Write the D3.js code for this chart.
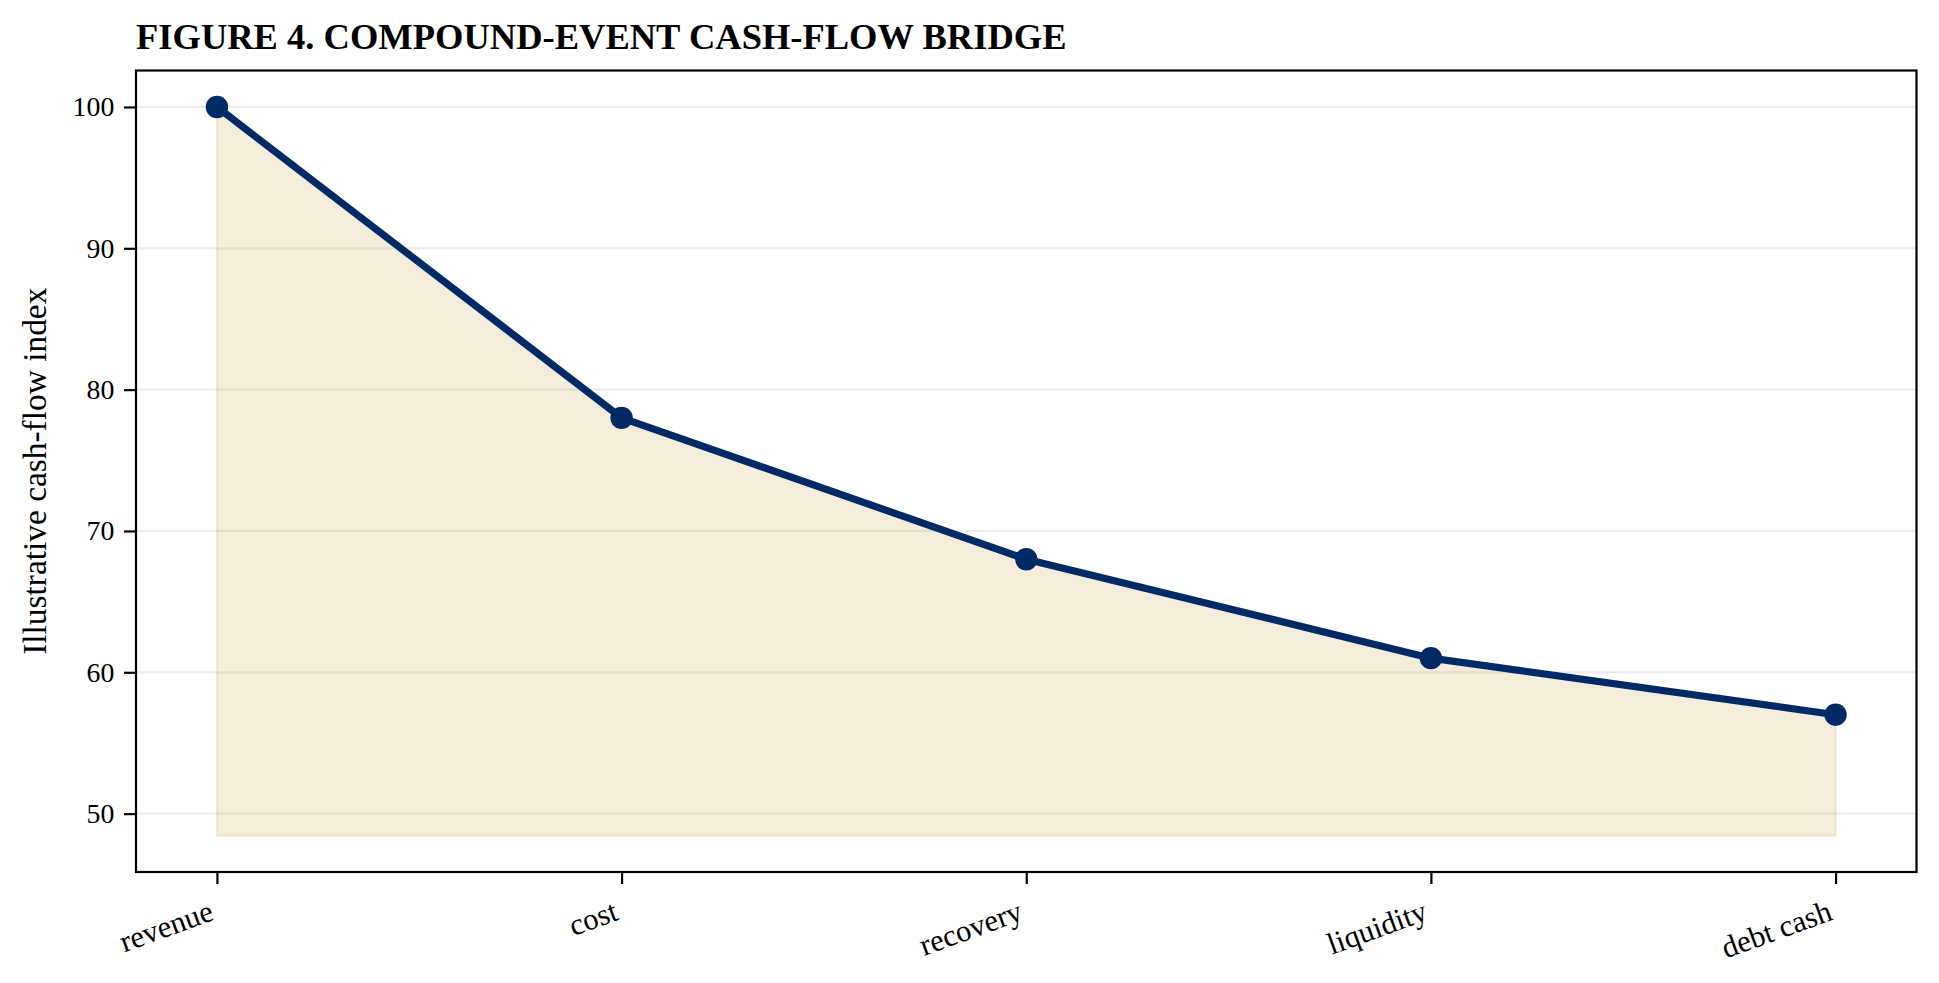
<!DOCTYPE html>
<html>
<head>
<meta charset="utf-8">
<script src="https://cdn.jsdelivr.net/npm/d3@7/dist/d3.min.js"></script>
<style>
  html, body { margin: 0; padding: 0; background: #ffffff; }
  svg { display: block; }
</style>
</head>
<body>
<svg id="chart" width="1939" height="983"></svg>
<script>
// ---- data ----
const categories = ["revenue", "cost", "recovery", "liquidity", "debt cash"];
const values = [100, 78, 68, 61, 57];
const fillBase = 48.45;
const yTicks = [50, 60, 70, 80, 90, 100];
const titleText = "FIGURE 4. COMPOUND-EVENT CASH-FLOW BRIDGE";
const yLabelText = "Illustrative cash-flow index";

// ---- layout ----
const W = 1939, H = 983;
const plot = { left: 136, right: 1916.5, top: 70.5, bottom: 872 };
const font = "'Liberation Serif', 'Times New Roman', Times, serif";
const tickFont = 27.8;
const xTickFont = 30.6;
const lineColor = "#002a66";
const fillColor = "#c9a44c";

const svg = d3.select("#chart");

const x = d3.scaleLinear().domain([-0.2, categories.length - 1 + 0.2]).range([plot.left, plot.right]);
const y = d3.scaleLinear().domain([45.87, 102.58]).range([plot.bottom, plot.top]);

// grid
svg.append("g").selectAll("line").data(yTicks).join("line")
  .attr("x1", plot.left).attr("x2", plot.right)
  .attr("y1", d => y(d)).attr("y2", d => y(d))
  .attr("stroke", "#b0b0b0").attr("stroke-opacity", 0.25).attr("stroke-width", 2.2);

// fill area
const idx = d3.range(values.length);
const area = d3.area().x(i => x(i)).y0(() => y(fillBase)).y1(i => y(values[i]));
svg.append("path").datum(idx).attr("d", area)
  .attr("fill", fillColor).attr("fill-opacity", 0.2)
  .attr("stroke", fillColor).attr("stroke-opacity", 0.2).attr("stroke-width", 2.2);

// line
const line = d3.line().x(i => x(i)).y(i => y(values[i]));
svg.append("path").datum(idx).attr("d", line)
  .attr("fill", "none").attr("stroke", lineColor).attr("stroke-width", 7.2)
  .attr("stroke-linejoin", "round").attr("stroke-linecap", "butt");

svg.append("g").selectAll("circle").data(idx).join("circle")
  .attr("cx", i => x(i)).attr("cy", i => y(values[i])).attr("r", 11.2)
  .attr("fill", lineColor);

// axes
const yAxis = d3.axisLeft(y).tickValues(yTicks).tickSize(12).tickPadding(9.7).tickFormat(d3.format("d"));
const gy = svg.append("g").attr("transform", `translate(${plot.left},0)`).call(yAxis);
gy.select(".domain").remove();
gy.selectAll(".tick line").attr("stroke", "#000").attr("stroke-width", 2.2);
gy.selectAll(".tick text").attr("font-family", font).attr("font-size", tickFont).attr("fill", "#000");

const xAxis = d3.axisBottom(x).tickValues(idx).tickSize(12).tickFormat(i => categories[i]);
const gx = svg.append("g").attr("transform", `translate(0,${plot.bottom})`).call(xAxis);
gx.select(".domain").remove();
gx.selectAll(".tick line").attr("stroke", "#000").attr("stroke-width", 2.2);

// rotated tick labels, matplotlib-style: rotated bbox right edge at tick, top at pad
const rot = 20 * Math.PI / 180;
const asc = 0.891 * xTickFont, desc = 0.216 * xTickFont;
gx.selectAll(".tick text").each(function() {
  const t = d3.select(this);
  t.attr("font-family", font).attr("font-size", xTickFont).attr("fill", "#000")
   .attr("text-anchor", "end").attr("dy", null).attr("y", 0).attr("x", 0);
  const w = this.getComputedTextLength();
  const corners = [[-w, -asc], [0, -asc], [-w, desc], [0, desc]].map(([cx, cy]) => [
    cx * Math.cos(-rot) - cy * Math.sin(-rot),
    cx * Math.sin(-rot) + cy * Math.cos(-rot)
  ]);
  const maxX = d3.max(corners, c => c[0]);
  const minY = d3.min(corners, c => c[1]);
  const tx = 0 - maxX;
  const ty = 12 + 9.7 - minY;
  t.attr("transform", `translate(${tx},${ty}) rotate(-20)`);
});

// frame
svg.append("rect").attr("x", plot.left).attr("y", plot.top)
  .attr("width", plot.right - plot.left).attr("height", plot.bottom - plot.top)
  .attr("fill", "none").attr("stroke", "#000").attr("stroke-width", 2.2);

// title
svg.append("text").attr("x", plot.left).attr("y", 49)
  .attr("font-family", font).attr("font-size", 36.5).attr("font-weight", "bold")
  .attr("fill", "#000").text(titleText);

// y label
svg.append("text")
  .attr("transform", `translate(45.5,${(plot.top + plot.bottom) / 2}) rotate(-90)`)
  .attr("text-anchor", "middle")
  .attr("font-family", font).attr("font-size", 33.4).attr("fill", "#000")
  .text(yLabelText);
</script>
</body>
</html>
